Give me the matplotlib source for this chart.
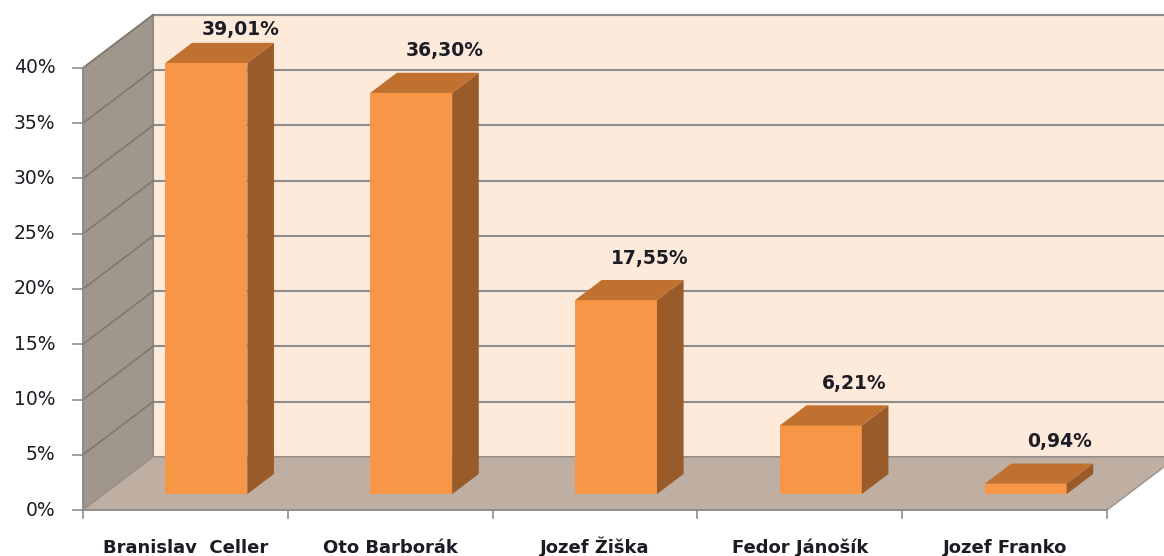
import matplotlib.pyplot as plt
from matplotlib.patches import Polygon

plt.rcParams['font.family'] = ['DejaVu Sans']

# data
names = ['Branislav  Celler', 'Oto Barborák', 'Jozef Žiška', 'Fedor Jánošík', 'Jozef Franko']
shares = [39.01, 36.30, 17.55, 6.21, 0.94]
labels = ['39,01%', '36,30%', '17,55%', '6,21%', '0,94%']
yticks = [0, 5, 10, 15, 20, 25, 30, 35, 40]

# oblique 3D look: depth shift in data units (categories, percent)
DX, DY = 0.342, 4.8
bar_w = 0.4
f0, fd = 0.3, 0.38   # bar front depth and bar depth (fraction of full depth)
ymax = 40

wall_col = '#FDEADA'
side_wall = '#A1968B'
floor_col = '#BEAFA2'
grid_col = '#8C8C8C'
front_col = '#F79646'
top_col = '#C0702F'
side_col = '#9A5B2A'
txt = '#1C1C24'

n = len(names)
fig = plt.figure(figsize=(11.64, 5.56), dpi=100)
ax = fig.add_axes([0, 0, 1, 1])
ax.set_xlim(-0.405, 5.278)
ax.set_ylim(-4.16, 46.15)
ax.axis('off')


def poly(pts, fc, z, ec='none', lw=0):
    ax.add_patch(Polygon(pts, closed=True, facecolor=fc, edgecolor=ec, linewidth=lw, zorder=z))


# back wall, left wall, floor
poly([(DX, DY), (n + DX, DY), (n + DX, ymax + DY), (DX, ymax + DY)], wall_col, 1, grid_col, 1.5)
poly([(0, 0), (DX, DY), (DX, ymax + DY), (0, ymax)], side_wall, 1, grid_col, 1.2)
poly([(0, 0), (n, 0), (n + DX, DY), (DX, DY)], floor_col, 1, '#9C9088', 1.0)

# gridlines
for v in yticks[1:]:
    ax.plot([DX, n + DX], [v + DY, v + DY], color=grid_col, lw=1.5, zorder=2)
    ax.plot([0, DX], [v, v + DY], color='#80786F', lw=1.2, zorder=2)

# axis ticks and labels
ax.plot([0, 0], [0, ymax], color='#8C8C8C', lw=1.2, zorder=2)
ax.plot([0, n], [0, 0], color='#8C8C8C', lw=1.2, zorder=2)
for v in yticks:
    ax.plot([-0.05, 0], [v, v], color='#8C8C8C', lw=1.2, zorder=2)
    ax.text(-0.135, v, f'{v}%', ha='right', va='center', fontsize=13.5, color=txt)
for i in range(n + 1):
    ax.plot([i, i], [0, -0.75], color='#8C8C8C', lw=1.2, zorder=2)
for i, name in enumerate(names):
    ax.text(i + 0.5, -3.9, name, ha='center', va='baseline', fontsize=13,
            fontweight='bold', color=txt)

# bars
for i, (val, lab) in enumerate(zip(shares, labels)):
    x0 = i + 0.5 - bar_w / 2 + f0 * DX
    x1 = x0 + bar_w
    y0 = f0 * DY
    y1 = y0 + val
    ddx, ddy = fd * DX, fd * DY
    poly([(x0, y0), (x1, y0), (x1, y1), (x0, y1)], front_col, 5)
    poly([(x1, y0), (x1 + ddx, y0 + ddy), (x1 + ddx, y1 + ddy), (x1, y1)], side_col, 5)
    poly([(x0, y1), (x1, y1), (x1 + ddx, y1 + ddy), (x0 + ddx, y1 + ddy)], top_col, 5)
    lx = (x0 + x1) / 2 + ddx / 2 + 0.1
    ly = min(y1 + ddy / 2 + 2.9, 43.5)
    ax.text(lx, ly, lab, ha='center', va='center', fontsize=13.5, fontweight='bold',
            color=txt, zorder=6)

fig.savefig('out.png', dpi=100, facecolor='white')
